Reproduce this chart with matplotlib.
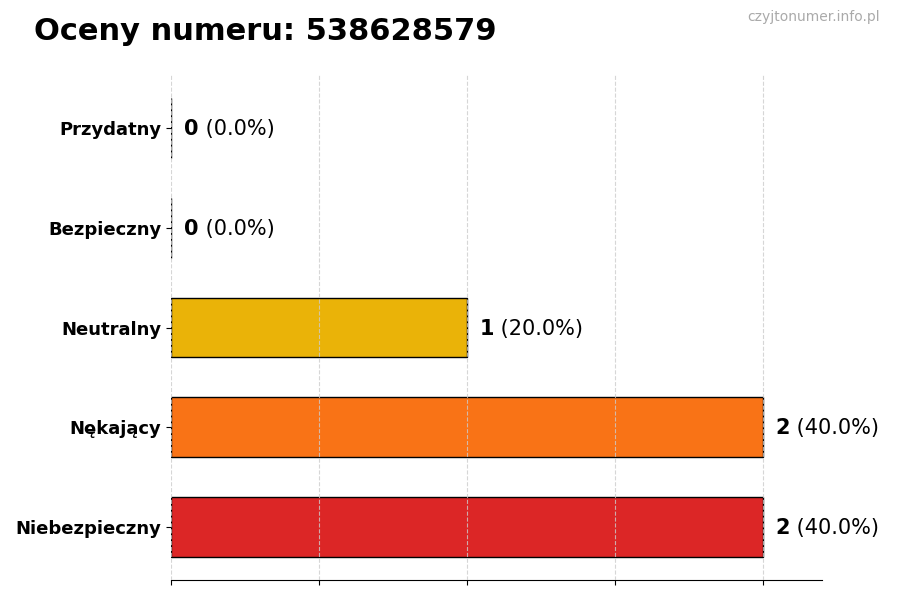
import matplotlib
matplotlib.use('Agg')
import matplotlib.pyplot as plt

# Data (top to bottom)
categories = ['Przydatny', 'Bezpieczny', 'Neutralny', 'Nękający', 'Niebezpieczny']
counts = [0, 0, 1, 2, 2]
colors = ['#22C55E', '#3B82F6', '#EAB308', '#F97316', '#DC2626']
number = '538628579'

total = sum(counts)

fig = plt.figure(figsize=(9, 6), dpi=100)
ax = fig.add_axes([0.19, 0.0333, 0.723, 0.8417])

# reverse so first category is on top
cats = categories[::-1]
vals = counts[::-1]
cols = colors[::-1]
ax.barh(cats, vals, height=0.6, color=cols, edgecolor='black', linewidth=1)

ax.set_xlim(0, 2.2)
ax.set_xticks([0, 0.5, 1, 1.5, 2])
ax.set_xticklabels([])
ax.grid(axis='x', linestyle='--', color='#cccccc', linewidth=0.8, alpha=0.8)
ax.set_axisbelow(False)
for s in ['top', 'right', 'left']:
    ax.spines[s].set_visible(False)
ax.tick_params(axis='y', labelsize=13)
for lbl in ax.get_yticklabels():
    lbl.set_fontweight('bold')

# value labels: bold count + normal percentage
for i, v in enumerate(vals):
    pct = v / total * 100
    t = ax.text(v + 0.044, i - 0.01, str(v), fontsize=15, fontweight='bold', va='center', ha='left')
    ax.annotate(f' ({pct:.1f}%)', xy=(1, 0), xycoords=t, fontsize=15, va='bottom', ha='left')

fig.text(0.038, 0.947, f'Oceny numeru: {number}', fontsize=22, fontweight='bold', va='center')
fig.text(0.978, 0.971, 'czyjtonumer.info.pl', fontsize=10, color='#aaaaaa', ha='right', va='center')

fig.savefig('out.png', dpi=100)
